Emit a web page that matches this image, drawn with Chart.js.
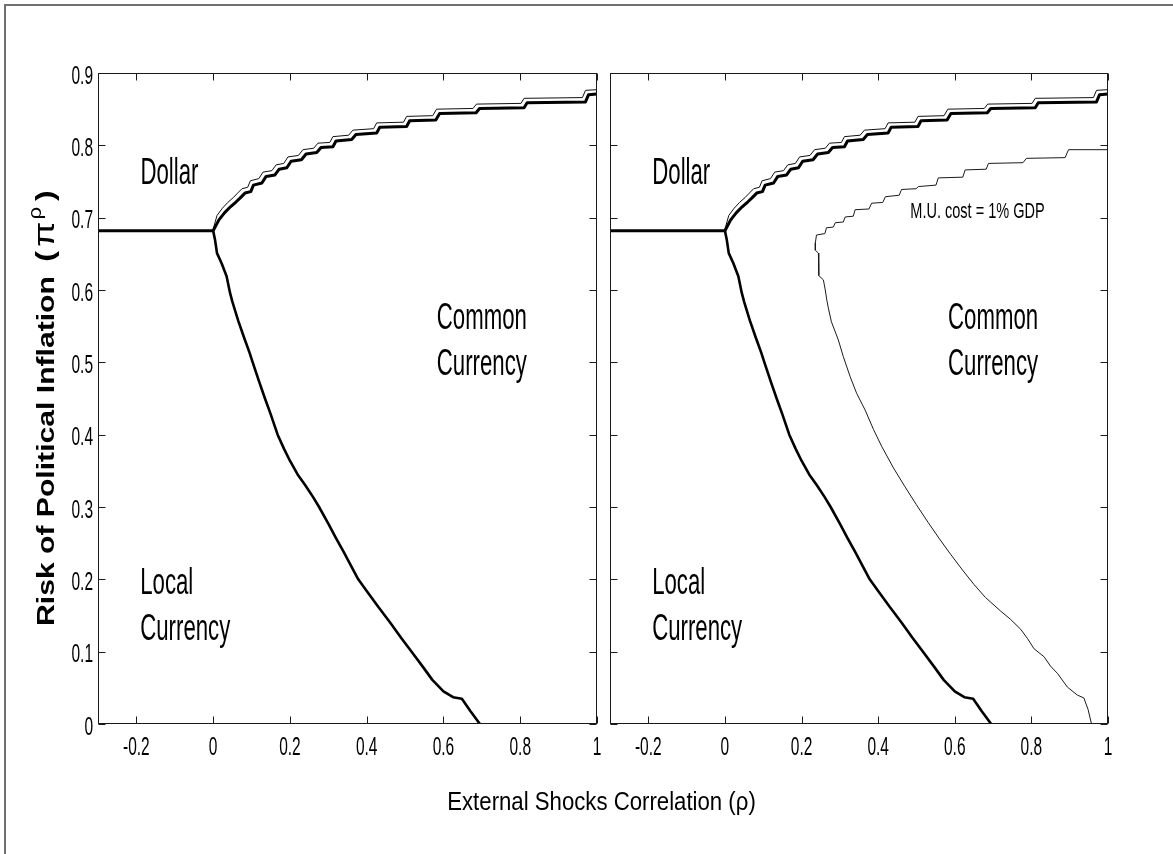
<!DOCTYPE html>
<html><head><meta charset="utf-8">
<script src="https://cdn.jsdelivr.net/npm/chart.js@4.4.0/dist/chart.umd.min.js"></script>
<style>
html,body{margin:0;padding:0;background:#fff;}
#wrap{position:relative;width:1173px;height:854px;overflow:hidden;background:#fff;}
#frame{position:absolute;left:4px;top:4px;width:1200px;height:900px;border-top:2px solid #707070;border-left:2px solid #707070;}
canvas{position:absolute;left:0;top:0;}
</style></head><body>
<div id="wrap"><div id="frame"></div><canvas id="c1" width="1173" height="854"></canvas><canvas id="c2" width="1173" height="854"></canvas></div>
<script>
// ---- tick values / labels ----
const xTicks = [-0.2, 0, 0.2, 0.4, 0.6, 0.8, 1];
const xTickLabels = ['-0.2', '0', '0.2', '0.4', '0.6', '0.8', '1'];
const yTicks = [0, 0.1, 0.2, 0.3, 0.4, 0.5, 0.6, 0.7, 0.8, 0.9];
const yTickLabels = ['0', '0.1', '0.2', '0.3', '0.4', '0.5', '0.6', '0.7', '0.8', '0.9'];

// ---- boundary: Local / Dollar (flat) ----
const flatX = [-0.3, 0];
const flatY = [0.682, 0.682];

// ---- boundary: Dollar / Common (thick) ----
const dollarEdgeX = [0, 0.015, 0.03, 0.045, 0.06, 0.07, 0.083, 0.098, 0.105, 0.127, 0.138, 0.161, 0.172, 0.192, 0.203, 0.23, 0.242, 0.27, 0.281, 0.312, 0.32, 0.361, 0.372, 0.426, 0.434, 0.504, 0.512, 0.58, 0.59, 0.685, 0.694, 0.81, 0.818, 0.97, 0.978, 1.0];
const dollarEdgeY = [0.682, 0.697, 0.707, 0.715, 0.722, 0.727, 0.734, 0.736, 0.745, 0.748, 0.757, 0.759, 0.767, 0.769, 0.778, 0.780, 0.788, 0.790, 0.797, 0.798, 0.806, 0.808, 0.815, 0.817, 0.825, 0.826, 0.834, 0.835, 0.844, 0.845, 0.851, 0.852, 0.859, 0.860, 0.870, 0.871];

// ---- boundary: Dollar / Common (thin companion) ----
const dollarEdge2X = [0, 0.01, 0.024, 0.038, 0.053, 0.062, 0.075, 0.09, 0.097, 0.119, 0.13, 0.153, 0.164, 0.184, 0.195, 0.222, 0.234, 0.262, 0.273, 0.304, 0.312, 0.353, 0.364, 0.418, 0.426, 0.496, 0.504, 0.572, 0.582, 0.677, 0.686, 0.802, 0.81, 0.962, 0.97, 1.0];
const dollarEdge2Y = [0.684, 0.703, 0.713, 0.721, 0.728, 0.733, 0.740, 0.742, 0.751, 0.754, 0.763, 0.765, 0.773, 0.775, 0.784, 0.786, 0.794, 0.796, 0.803, 0.804, 0.812, 0.814, 0.821, 0.823, 0.831, 0.832, 0.840, 0.841, 0.850, 0.851, 0.857, 0.858, 0.865, 0.866, 0.876, 0.877];

// ---- boundary: Local / Common ----
const localEdgeX = [0, 0.005, 0.01, 0.022, 0.035, 0.044, 0.05, 0.065, 0.08, 0.095, 0.103, 0.12, 0.135, 0.15, 0.168, 0.185, 0.2, 0.22, 0.24, 0.26, 0.276, 0.3, 0.32, 0.34, 0.36, 0.378, 0.4, 0.43, 0.46, 0.49, 0.517, 0.545, 0.571, 0.6, 0.625, 0.648, 0.67, 0.695];
const localEdgeY = [0.682, 0.669, 0.651, 0.637, 0.619, 0.596, 0.584, 0.558, 0.535, 0.513, 0.5, 0.473, 0.45, 0.428, 0.4, 0.38, 0.364, 0.345, 0.33, 0.314, 0.3, 0.277, 0.257, 0.238, 0.218, 0.2, 0.184, 0.162, 0.141, 0.119, 0.1, 0.08, 0.061, 0.045, 0.037, 0.035, 0.018, 0];

// ---- M.U. cost = 1% GDP boundary (right panel) ----
const muCostX = [1.0, 0.897, 0.888, 0.787, 0.778, 0.688, 0.682, 0.627, 0.621, 0.557, 0.551, 0.505, 0.499, 0.461, 0.455, 0.419, 0.412, 0.383, 0.376, 0.34, 0.335, 0.314, 0.309, 0.288, 0.283, 0.265, 0.261, 0.239, 0.236, 0.236, 0.244, 0.245, 0.257, 0.262, 0.266, 0.27, 0.278, 0.296, 0.309, 0.327, 0.344, 0.366, 0.388, 0.409, 0.44, 0.47, 0.50, 0.53, 0.56, 0.59, 0.62, 0.65, 0.68, 0.72, 0.745, 0.772, 0.79, 0.807, 0.833, 0.85, 0.868, 0.894, 0.92, 0.937, 0.948, 0.957];
const muCostY = [0.794, 0.794, 0.783, 0.782, 0.776, 0.775, 0.767, 0.766, 0.756, 0.755, 0.745, 0.743, 0.740, 0.739, 0.731, 0.729, 0.721, 0.720, 0.712, 0.711, 0.702, 0.701, 0.694, 0.693, 0.687, 0.686, 0.678, 0.676, 0.665, 0.655, 0.651, 0.62, 0.614, 0.6, 0.586, 0.575, 0.556, 0.531, 0.508, 0.48, 0.457, 0.434, 0.407, 0.384, 0.354, 0.328, 0.303, 0.279, 0.256, 0.234, 0.213, 0.193, 0.175, 0.156, 0.145, 0.131, 0.118, 0.104, 0.093, 0.08, 0.07, 0.051, 0.04, 0.036, 0.02, 0];

// ---- region labels ----
const regionLabels = [
  {lines: ['Dollar'], x: -0.114, y: 0.7466, align: 'center'},
  {lines: ['Common', 'Currency'], x: 0.70, y: 0.546, align: 'center'},
  {lines: ['Local', 'Currency'], x: -0.19, y: 0.18, align: 'left'}
];
const costLabel = {lines: ['M.U. cost = 1% GDP'], x: 0.484, y: 0.70, align: 'left'};
const xTitle = 'External Shocks Correlation (\u03c1)';
const yTitleMain = 'Risk of Political Inflation ';

const FAM = '"Liberation Sans", Arial, sans-serif';
const pts = (xs, ys) => xs.map((x, i) => ({x: x, y: ys[i]}));

function txt(ctx, s, x, y, font, sx, align) {
  ctx.save();
  ctx.translate(x, y);
  ctx.scale(sx, 1);
  ctx.font = font;
  ctx.textAlign = align;
  ctx.textBaseline = 'alphabetic';
  ctx.fillStyle = '#000';
  ctx.fillText(s, 0, 0);
  ctx.restore();
}

function drawYTitle(ctx) {
  const S = 1.23;
  ctx.save();
  ctx.translate(53.5, 626);
  ctx.rotate(-Math.PI / 2);
  ctx.fillStyle = '#000';
  ctx.textBaseline = 'alphabetic';
  ctx.textAlign = 'left';
  const parts = [
    {s: yTitleMain, font: 'bold 24.5px ' + FAM, gap: 0, dy: 0},
    {s: '(', font: 'bold 26px ' + FAM, gap: 6, dy: 0},
    {s: '\u03c0', font: '30px ' + FAM, gap: 4, dy: 0},
    {s: '\u03c1', font: '18px ' + FAM, gap: 2, dy: -13},
    {s: ')', font: 'bold 26px ' + FAM, gap: 6, dy: 0}
  ];
  let pos = 0;
  parts.forEach(p => {
    pos += p.gap;
    ctx.font = p.font;
    ctx.save();
    ctx.translate(pos, p.dy);
    ctx.scale(S, 1);
    ctx.fillText(p.s, 0, 0);
    ctx.restore();
    pos += ctx.measureText(p.s).width * S;
  });
  ctx.restore();
}

function makePlugin(cfg) {
  return {
    id: 'deco' + cfg.id,
    afterDraw(chart) {
      const ctx = chart.ctx, xs = chart.scales.x, ys = chart.scales.y, a = chart.chartArea;
      const L = Math.round(a.left) + 0.5, R = Math.round(a.right) - 0.5;
      const T = Math.round(a.top) + 0.5, B = Math.round(a.bottom) - 0.5;
      ctx.save();
      ctx.strokeStyle = '#1a1a1a';
      ctx.lineWidth = 1;
      ctx.strokeRect(L, T, R - L, B - T);
      ctx.beginPath();
      xs.ticks.forEach(t => {
        const p = Math.round(xs.getPixelForValue(t.value)) + 0.5;
        ctx.moveTo(p, B); ctx.lineTo(p, B - 7);
        ctx.moveTo(p, T); ctx.lineTo(p, T + 7);
      });
      ys.ticks.forEach(t => {
        const p = Math.round(ys.getPixelForValue(t.value)) + 0.5;
        ctx.moveTo(L, p); ctx.lineTo(L + 7, p);
        ctx.moveTo(R, p); ctx.lineTo(R - 7, p);
      });
      ctx.stroke();
      const tickFont = '25px ' + FAM;
      xs.ticks.forEach((t, i) => txt(ctx, xTickLabels[i], xs.getPixelForValue(t.value), a.bottom + 31, tickFont, 0.62, 'center'));
      if (cfg.yLabels) {
        ys.ticks.forEach((t, i) => txt(ctx, yTickLabels[i], a.left - 5, ys.getPixelForValue(t.value) + 10.5, tickFont, 0.62, 'right'));
      }
      cfg.labels.forEach(lb => {
        const px = xs.getPixelForValue(lb.x), py = ys.getPixelForValue(lb.y);
        lb.lines.forEach((s, k) => txt(ctx, s, px, py + k * 46, lb.font || ('37px ' + FAM), lb.sx || 0.6, lb.align));
      });
      if (cfg.titles) {
        txt(ctx, xTitle, 601.5, 810, '25.5px ' + FAM, 0.87, 'center');
        drawYTitle(ctx);
      }
      ctx.restore();
    }
  };
}

function panel(id, cfg) {
  return new Chart(document.getElementById(id), {
    type: 'scatter',
    data: {datasets: cfg.datasets},
    options: {
      responsive: false, animation: false, devicePixelRatio: 1,
      layout: {padding: {top: 73, left: 0, right: cfg.padRight, bottom: 0}},
      plugins: {legend: {display: false}, tooltip: {enabled: false}},
      elements: {point: {radius: 0, hoverRadius: 0}, line: {tension: 0, borderJoinStyle: 'round', borderCapStyle: 'butt'}},
      scales: {
        x: {type: 'linear', min: -0.3, max: 1,
            afterBuildTicks: s => { s.ticks = xTicks.map(v => ({value: v})); },
            ticks: {display: false}, grid: {display: false}, border: {display: false},
            afterFit: s => { s.height = 130; }},
        y: {type: 'linear', min: 0, max: 0.9,
            afterBuildTicks: s => { s.ticks = yTicks.map(v => ({value: v})); },
            ticks: {display: false}, grid: {display: false}, border: {display: false},
            afterFit: s => { s.width = cfg.yWidth; }}
      }
    },
    plugins: [makePlugin(cfg)]
  });
}

function baseSets() {
  return [
    {data: pts(flatX, flatY), showLine: true, borderColor: '#000', borderWidth: 3},
    {data: pts(dollarEdgeX, dollarEdgeY), showLine: true, borderColor: '#000', borderWidth: 3},
    {data: pts(dollarEdge2X, dollarEdge2Y), showLine: true, borderColor: '#111', borderWidth: 1},
    {data: pts(localEdgeX, localEdgeY), showLine: true, borderColor: '#000', borderWidth: 2.6}
  ];
}

panel('c1', {id: 1, padRight: 576, yWidth: 98, yLabels: true, titles: true,
  labels: regionLabels, datasets: baseSets()});

const rightSets = baseSets();
rightSets.push({data: pts(muCostX, muCostY), showLine: true, borderColor: '#1a1a1a', borderWidth: 1});
panel('c2', {id: 2, padRight: 65, yWidth: 610, yLabels: false, titles: false,
  labels: regionLabels.concat([Object.assign({font: '22px ' + FAM, sx: 0.66}, costLabel)]),
  datasets: rightSets});
</script>
</body></html>
